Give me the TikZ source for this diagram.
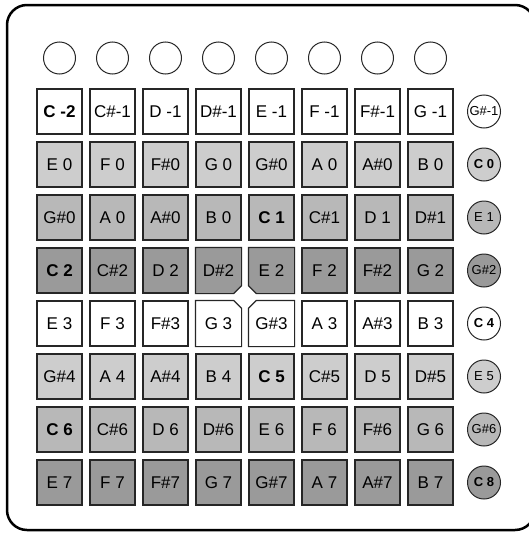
\documentclass[tikz,border=0pt]{standalone}
\usepackage{fontspec}
\setmainfont{Liberation Sans}
\usepackage{xcolor}
\usepackage{tikz}
\definecolor{lightpad}{RGB}{205, 205, 205}
\definecolor{midpad}{RGB}{184, 184, 184}
\definecolor{darkpad}{RGB}{154, 154, 154}
\usetikzlibrary{backgrounds}

\begin{document}
\begin{tikzpicture}[
    x=1pt, y=-1pt,
    pad/.style={rectangle, draw=black!85, line width=1.2pt, minimum width=45pt, minimum height=45pt, inner sep=0pt, align=center, font=\fontsize{17}{17}\selectfont},
    cutpad/.style={pad, draw=none},
    cutline/.style={draw=black!85, line width=1.2pt},
    knob/.style={circle, draw=black!85, line width=1pt, minimum size=32pt, inner sep=0pt},
    note/.style={circle, draw=black!85, line width=1pt, minimum size=33pt, inner sep=-3pt, font=\fontsize{13}{13}\selectfont}
]
    \useasboundingbox (0,0) rectangle (529,533);
    % Case
    \draw[line width=2.5pt, rounded corners=20pt] (7,5) rectangle (535,530);

    % Top row of round buttons
    \node[knob] (top1) at (59.5, 58) {};
    \node[knob] (top2) at (112.5, 58) {};
    \node[knob] (top3) at (165.5, 58) {};
    \node[knob] (top4) at (218.5, 58) {};
    \node[knob] (top5) at (271.5, 58) {};
    \node[knob] (top6) at (324.5, 58) {};
    \node[knob] (top7) at (377.5, 58) {};
    \node[knob] (top8) at (430.5, 58) {};

    % Row 1
    \node[pad, fill=white] (pad11) at (59.5, 111.5) {\bfseries C -2};
    \node[pad, fill=white] (pad12) at (112.5, 111.5) {C\#-1};
    \node[pad, fill=white] (pad13) at (165.5, 111.5) {D -1};
    \node[pad, fill=white] (pad14) at (218.5, 111.5) {D\#-1};
    \node[pad, fill=white] (pad15) at (271.5, 111.5) {E -1};
    \node[pad, fill=white] (pad16) at (324.5, 111.5) {F -1};
    \node[pad, fill=white] (pad17) at (377.5, 111.5) {F\#-1};
    \node[pad, fill=white] (pad18) at (430.5, 111.5) {G -1};
    \node[note, fill=white] (side1) at (484, 111.5) {G\#-1};

    % Row 2
    \node[pad, fill=lightpad] (pad21) at (59.5, 164.5) {E 0};
    \node[pad, fill=lightpad] (pad22) at (112.5, 164.5) {F 0};
    \node[pad, fill=lightpad] (pad23) at (165.5, 164.5) {F\#0};
    \node[pad, fill=lightpad] (pad24) at (218.5, 164.5) {G 0};
    \node[pad, fill=lightpad] (pad25) at (271.5, 164.5) {G\#0};
    \node[pad, fill=lightpad] (pad26) at (324.5, 164.5) {A 0};
    \node[pad, fill=lightpad] (pad27) at (377.5, 164.5) {A\#0};
    \node[pad, fill=lightpad] (pad28) at (430.5, 164.5) {B 0};
    \node[note, fill=lightpad] (side2) at (484, 164.5) {\bfseries C 0};

    % Row 3
    \node[pad, fill=midpad] (pad31) at (59.5, 217.5) {G\#0};
    \node[pad, fill=midpad] (pad32) at (112.5, 217.5) {A 0};
    \node[pad, fill=midpad] (pad33) at (165.5, 217.5) {A\#0};
    \node[pad, fill=midpad] (pad34) at (218.5, 217.5) {B 0};
    \node[pad, fill=midpad] (pad35) at (271.5, 217.5) {\bfseries C 1};
    \node[pad, fill=midpad] (pad36) at (324.5, 217.5) {C\#1};
    \node[pad, fill=midpad] (pad37) at (377.5, 217.5) {D 1};
    \node[pad, fill=midpad] (pad38) at (430.5, 217.5) {D\#1};
    \node[note, fill=midpad] (side3) at (484, 217.5) {E 1};

    % Row 4
    \node[pad, fill=darkpad] (pad41) at (59.5, 270.5) {\bfseries C 2};
    \node[pad, fill=darkpad] (pad42) at (112.5, 270.5) {C\#2};
    \node[pad, fill=darkpad] (pad43) at (165.5, 270.5) {D 2};
    \node[cutpad] (pad44) at (218.5, 270.5) {D\#2};
    \node[cutpad] (pad45) at (271.5, 270.5) {E 2};
    \node[pad, fill=darkpad] (pad46) at (324.5, 270.5) {F 2};
    \node[pad, fill=darkpad] (pad47) at (377.5, 270.5) {F\#2};
    \node[pad, fill=darkpad] (pad48) at (430.5, 270.5) {G 2};
    \node[note, fill=darkpad] (side4) at (484, 270.5) {G\#2};

    % Row 5
    \node[pad, fill=white] (pad51) at (59.5, 323.5) {E 3};
    \node[pad, fill=white] (pad52) at (112.5, 323.5) {F 3};
    \node[pad, fill=white] (pad53) at (165.5, 323.5) {F\#3};
    \node[cutpad] (pad54) at (218.5, 323.5) {G 3};
    \node[cutpad] (pad55) at (271.5, 323.5) {G\#3};
    \node[pad, fill=white] (pad56) at (324.5, 323.5) {A 3};
    \node[pad, fill=white] (pad57) at (377.5, 323.5) {A\#3};
    \node[pad, fill=white] (pad58) at (430.5, 323.5) {B 3};
    \node[note, fill=white] (side5) at (484, 323.5) {\bfseries C 4};

    % Row 6
    \node[pad, fill=lightpad] (pad61) at (59.5, 376.5) {G\#4};
    \node[pad, fill=lightpad] (pad62) at (112.5, 376.5) {A 4};
    \node[pad, fill=lightpad] (pad63) at (165.5, 376.5) {A\#4};
    \node[pad, fill=lightpad] (pad64) at (218.5, 376.5) {B 4};
    \node[pad, fill=lightpad] (pad65) at (271.5, 376.5) {\bfseries C 5};
    \node[pad, fill=lightpad] (pad66) at (324.5, 376.5) {C\#5};
    \node[pad, fill=lightpad] (pad67) at (377.5, 376.5) {D 5};
    \node[pad, fill=lightpad] (pad68) at (430.5, 376.5) {D\#5};
    \node[note, fill=lightpad] (side6) at (484, 376.5) {E 5};

    % Row 7
    \node[pad, fill=midpad] (pad71) at (59.5, 429.5) {\bfseries C 6};
    \node[pad, fill=midpad] (pad72) at (112.5, 429.5) {C\#6};
    \node[pad, fill=midpad] (pad73) at (165.5, 429.5) {D 6};
    \node[pad, fill=midpad] (pad74) at (218.5, 429.5) {D\#6};
    \node[pad, fill=midpad] (pad75) at (271.5, 429.5) {E 6};
    \node[pad, fill=midpad] (pad76) at (324.5, 429.5) {F 6};
    \node[pad, fill=midpad] (pad77) at (377.5, 429.5) {F\#6};
    \node[pad, fill=midpad] (pad78) at (430.5, 429.5) {G 6};
    \node[note, fill=midpad] (side7) at (484, 429.5) {G\#6};

    % Row 8
    \node[pad, fill=darkpad] (pad81) at (59.5, 482.5) {E 7};
    \node[pad, fill=darkpad] (pad82) at (112.5, 482.5) {F 7};
    \node[pad, fill=darkpad] (pad83) at (165.5, 482.5) {F\#7};
    \node[pad, fill=darkpad] (pad84) at (218.5, 482.5) {G 7};
    \node[pad, fill=darkpad] (pad85) at (271.5, 482.5) {G\#7};
    \node[pad, fill=darkpad] (pad86) at (324.5, 482.5) {A 7};
    \node[pad, fill=darkpad] (pad87) at (377.5, 482.5) {A\#7};
    \node[pad, fill=darkpad] (pad88) at (430.5, 482.5) {B 7};
    \node[note, fill=darkpad] (side8) at (484, 482.5) {\bfseries C 8};

    % Centre pads with a cut corner
    \begin{scope}[on background layer]
        \draw[cutline, fill=darkpad] (pad44.north west) -- (pad44.north east) -- ([yshift=8pt]pad44.south east) -- ([xshift=-8pt]pad44.south east) -- (pad44.south west) -- cycle;
        \draw[cutline, fill=darkpad] (pad45.north west) -- (pad45.north east) -- (pad45.south east) -- ([xshift=8pt]pad45.south west) -- ([yshift=8pt]pad45.south west) -- cycle;
        \draw[cutline, fill=white] (pad54.north west) -- ([xshift=-8pt]pad54.north east) -- ([yshift=-8pt]pad54.north east) -- (pad54.south east) -- (pad54.south west) -- cycle;
        \draw[cutline, fill=white] ([yshift=-8pt]pad55.north west) -- ([xshift=8pt]pad55.north west) -- (pad55.north east) -- (pad55.south east) -- (pad55.south west) -- cycle;
    \end{scope}
\end{tikzpicture}
\end{document}
